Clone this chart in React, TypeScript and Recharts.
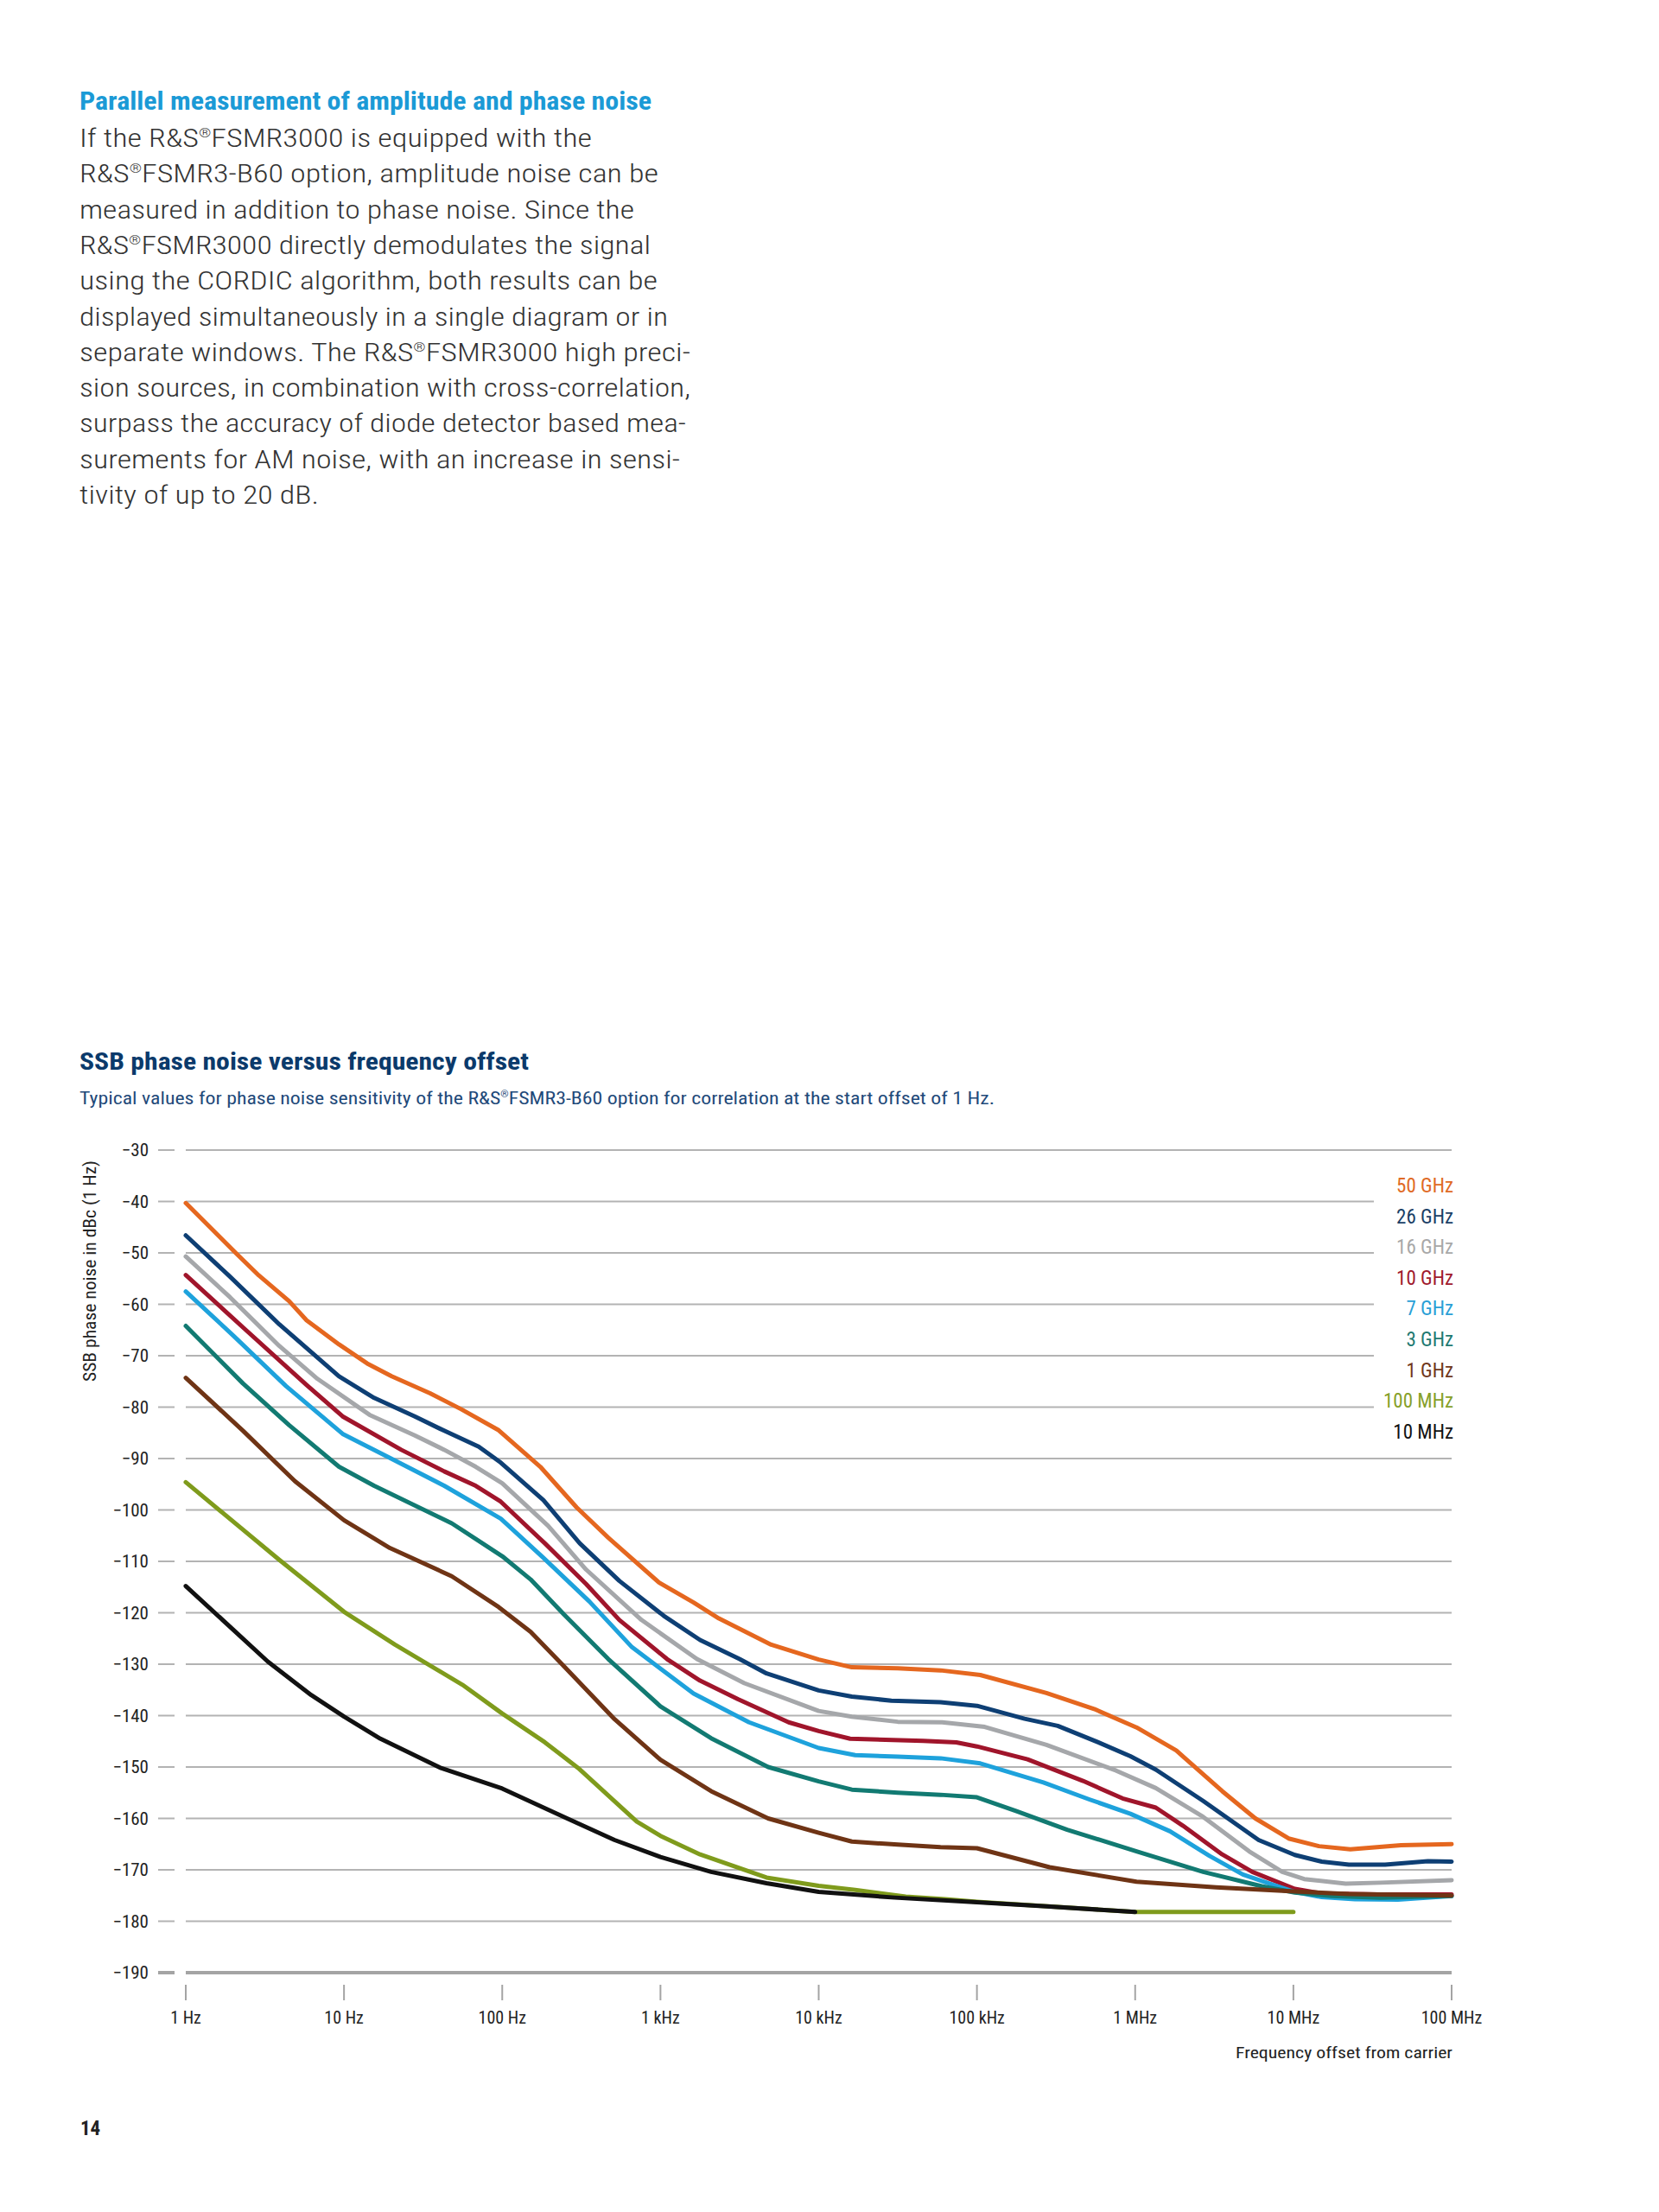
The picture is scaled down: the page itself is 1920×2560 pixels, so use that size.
import React from 'react';
import { LineChart, Line, XAxis, YAxis, CartesianGrid, Legend, Label } from 'recharts';

const FONT = "'Liberation Sans Narrow', 'Roboto Condensed', 'DejaVu Sans Condensed', 'Roboto', sans-serif";

// ---------- text ----------
const PARA_TITLE = 'Parallel measurement of amplitude and phase noise';
const PARA_LINES = [
  'If the R&S®FSMR3000 is equipped with the',
  'R&S®FSMR3-B60 option, amplitude noise can be',
  'measured in addition to phase noise. Since the',
  'R&S®FSMR3000 directly demodulates the signal',
  'using the CORDIC algorithm, both results can be',
  'displayed simultaneously in a single diagram or in',
  'separate windows. The R&S®FSMR3000 high preci-',
  'sion sources, in combination with cross-correlation,',
  'surpass the accuracy of diode detector based mea-',
  'surements for AM noise, with an increase in sensi-',
  'tivity of up to 20 dB.',
];
const PARA_WIDTHS = [593, 670, 642, 661, 669, 681, 707, 707, 702, 695, 277];
const CHART_TITLE = 'SSB phase noise versus frequency offset';
const CHART_SUBTITLE = 'Typical values for phase noise sensitivity of the R&S®FSMR3-B60 option for correlation at the start offset of 1 Hz.';
const Y_AXIS_TITLE = 'SSB phase noise in dBc (1 Hz)';
const X_AXIS_TITLE = 'Frequency offset from carrier';
const PAGE_NUMBER = '14';

// ---------- axes ----------
const X_TICKS = [1, 10, 100, 1e3, 1e4, 1e5, 1e6, 1e7, 1e8];
const X_TICK_LABELS = ['1 Hz', '10 Hz', '100 Hz', '1 kHz', '10 kHz', '100 kHz', '1 MHz', '10 MHz', '100 MHz'];
const Y_TICKS = [-30, -40, -50, -60, -70, -80, -90, -100, -110, -120, -130, -140, -150, -160, -170, -180, -190];

// ---------- series ----------
const SERIES_NAMES = ['50 GHz', '26 GHz', '16 GHz', '10 GHz', '7 GHz', '3 GHz', '1 GHz', '100 MHz', '10 MHz'];
const SERIES_COLORS = ['#e5671f', '#0e3f74', '#a5a7aa', '#a0152b', '#1ea2dc', '#127a72', '#6f3415', '#7f9b1c', '#111111'];
const LEGEND_COLORS = ['#e06a25', '#1b3f66', '#a8a8a8', '#a01a2e', '#2a9fd6', '#1f7a72', '#70381c', '#86a02a', '#111111'];

const F_50G = [1, 2.1, 2.9, 4.5, 5.8, 9.3, 14, 20, 35, 55, 95, 174, 295, 468, 977, 1620, 2340, 5010, 1e4, 1.62e4, 3.16e4, 5.89e4, 1.05e5, 2.75e5, 5.5e5, 1.02e6, 1.82e6, 3.55e6, 5.75e6, 9.33e6, 1.45e7, 2.29e7, 4.79e7, 1e8];
const V_50G = [-40.3, -50.2, -54.4, -59.4, -63.1, -67.8, -71.5, -74, -77.3, -80.4, -84.5, -91.6, -99.5, -105.4, -114.1, -118, -121.1, -126.2, -129.1, -130.6, -130.8, -131.2, -132.1, -135.6, -138.7, -142.3, -146.8, -154.7, -160, -163.9, -165.4, -166, -165.2, -165];

const F_26G = [1, 1.9, 3.9, 9.3, 15.5, 28, 43, 71, 98, 182, 309, 550, 1050, 1780, 3160, 4680, 1e4, 1.62e4, 2.88e4, 5.89e4, 1e5, 2e5, 3.24e5, 5.75e5, 9.33e5, 1.35e6, 2.69e6, 6.03e6, 1.02e7, 1.51e7, 2.24e7, 3.8e7, 7.08e7, 1e8];
const V_26G = [-46.6, -54.6, -63.9, -74, -78.2, -81.8, -84.6, -87.7, -90.8, -98.1, -106.5, -113.8, -120.6, -125.3, -129, -131.8, -135.1, -136.3, -137.1, -137.4, -138.1, -140.6, -142, -145.1, -147.9, -150.5, -156.6, -164.2, -167.1, -168.4, -169, -169, -168.3, -168.4];

const F_16G = [1, 1.9, 3.9, 6.8, 14.5, 28, 43, 68, 100, 195, 339, 759, 1700, 3390, 1e4, 1.62e4, 3.16e4, 6.03e4, 1.12e5, 2.75e5, 7.59e5, 1.35e6, 2.69e6, 5.25e6, 8.51e6, 1.17e7, 2.14e7, 3.55e7, 1e8];
const V_16G = [-50.7, -58.6, -68.1, -74.5, -81.5, -85.5, -88.3, -91.6, -94.8, -103.1, -111.6, -121.4, -129, -133.7, -139.1, -140.2, -141.2, -141.3, -142.2, -145.7, -150.7, -154.1, -159.7, -166.4, -170.4, -171.8, -172.7, -172.5, -172];

const F_10G = [1, 2.3, 5.8, 9.8, 23, 43, 68, 98, 186, 339, 550, 1100, 1780, 3090, 6460, 1e4, 1.58e4, 4.57e4, 7.41e4, 1e5, 2.09e5, 4.68e5, 8.32e5, 1.35e6, 2e6, 3.55e6, 5.5e6, 1.02e7, 1.51e7, 3.55e7, 1e8];
const V_10G = [-54.3, -64.5, -75.7, -81.8, -88.3, -92.5, -95.3, -98.4, -106.5, -114.4, -121.4, -129, -133.2, -136.8, -141.3, -143, -144.5, -144.9, -145.2, -146, -148.5, -152.7, -156.1, -157.9, -161.4, -167, -170.4, -173.7, -174.6, -174.8, -174.8];

const F_7G = [1, 2, 4.3, 9.8, 19, 43, 98, 182, 355, 661, 1620, 3630, 1e4, 1.7e4, 3.16e4, 5.89e4, 1.05e5, 2.63e5, 5.13e5, 9.33e5, 1.66e6, 2.95e6, 4.79e6, 6.92e6, 1.02e7, 1.51e7, 2.45e7, 4.57e7, 1e8];
const V_7G = [-57.5, -66.1, -75.9, -85.2, -89.7, -95.3, -101.7, -109.3, -117.8, -126.7, -135.7, -141.3, -146.3, -147.7, -148, -148.3, -149.3, -153, -156.3, -159.1, -162.5, -167.3, -170.9, -172.6, -174.3, -175.3, -175.7, -175.8, -175.1];

const F_3G = [1, 2.3, 4.5, 9.3, 15.5, 48, 100, 151, 245, 468, 1000, 2090, 4790, 1e4, 1.62e4, 3.16e4, 5.89e4, 1e5, 1.78e5, 3.72e5, 1.02e6, 2.69e6, 6.31e6, 1.02e7, 1.74e7, 3.55e7, 1e8];
const V_3G = [-64.2, -75.4, -83.5, -91.6, -95.3, -102.6, -109, -113.5, -120.3, -129, -138.2, -144.4, -150, -152.8, -154.4, -155, -155.4, -155.9, -158.6, -162.2, -166.4, -170.4, -173.2, -174.4, -175.1, -175.4, -175.1];

const F_1G = [1, 2.3, 4.9, 10, 19.5, 48, 95, 151, 240, 513, 1000, 2090, 4790, 1e4, 1.62e4, 3.16e4, 5.89e4, 1e5, 2.88e5, 1.02e6, 3.24e6, 1.02e7, 2.24e7, 1e8];
const V_1G = [-74.3, -84.6, -94.4, -102, -107.4, -112.9, -118.9, -123.7, -130.1, -140.7, -148.6, -154.7, -160, -162.8, -164.5, -165.1, -165.6, -165.8, -169.5, -172.3, -173.4, -174.2, -174.7, -175];

const F_100M = [1, 3.9, 10, 21, 56, 100, 186, 302, 708, 1000, 1780, 4680, 1e4, 1.7e4, 3.55e4, 6.31e4, 1e5, 1e6, 1e7];
const V_100M = [-94.6, -109.7, -119.8, -126.2, -134, -139.6, -145.2, -150.2, -160.6, -163.4, -167, -171.5, -173.1, -173.9, -175.2, -175.7, -176.2, -178.2, -178.2];

const F_10M = [1, 3.3, 6.2, 10, 17, 41, 100, 257, 513, 1000, 2090, 4680, 1e4, 3.02e4, 1e5, 2.75e5, 1e6];
const V_10M = [-114.8, -129.5, -136, -140.2, -144.5, -150.2, -154.2, -160, -164.2, -167.5, -170.4, -172.6, -174.3, -175.4, -176.3, -177.1, -178.2];

const SERIES_F = [F_50G, F_26G, F_16G, F_10G, F_7G, F_3G, F_1G, F_100M, F_10M];
const SERIES_V = [V_50G, V_26G, V_16G, V_10G, V_7G, V_3G, V_1G, V_100M, V_10M];

const SERIES = SERIES_NAMES.map((name, i) => ({
  name,
  color: SERIES_COLORS[i],
  data: SERIES_F[i].map((f, j) => ({ f, v: SERIES_V[i][j] })),
}));

// ---------- layout ----------
const CHART_TOP = 1300;
const CHART_W = 1760;
const CHART_H = 1120;
const PLOT_BOTTOM = 983; // svg coordinate of the -190 line
const GRID = '#b3b3b3';

// registered sign as a small superscript; the following text returns to the baseline
const withReg = (s: string, size: number) => {
  const parts = s.split('®');
  const lift = Math.round(size * 0.38);
  const out: React.ReactNode[] = [];
  parts.forEach((p, i) => {
    if (i > 0) {
      out.push(
        <tspan key={'r' + i} fontSize={Math.round(size * 0.5)} dy={-lift}>
          ®
        </tspan>
      );
      out.push(
        <tspan key={'t' + i} dy={lift}>
          {p}
        </tspan>
      );
    } else {
      out.push(<tspan key={'t' + i}>{p}</tspan>);
    }
  });
  return out;
};

const YTick = (props: any) => {
  const { y, payload } = props;
  const isBottom = payload.value === -190;
  return (
    <g>
      <line x1={183} x2={202} y1={y} y2={y} stroke={isBottom ? '#a4a4a4' : GRID} strokeWidth={isBottom ? 4 : 2} />
      <text x={172} y={y + 7} textAnchor="end" fontSize={21} fill="#222" fontFamily={FONT}>
        {'\u2212' + Math.abs(payload.value)}
      </text>
    </g>
  );
};

const XTick = (props: any) => {
  const { x, payload } = props;
  const idx = X_TICKS.indexOf(payload.value);
  return (
    <g>
      <line x1={x} x2={x} y1={PLOT_BOTTOM + 14} y2={PLOT_BOTTOM + 32} stroke="#a4a4a4" strokeWidth={2} />
      <text x={x} y={PLOT_BOTTOM + 59} textAnchor="middle" fontSize={20} fill="#222" fontFamily={FONT}>
        {X_TICK_LABELS[idx]}
      </text>
    </g>
  );
};

const LegendContent = () => (
  <div
    style={{
      background: '#fff',
      width: 92,
      textAlign: 'right',
      fontFamily: FONT,
      fontSize: 23,
      lineHeight: '35.6px',
    }}
  >
    {SERIES_NAMES.map((n, i) => (
      <div key={n} style={{ color: LEGEND_COLORS[i], whiteSpace: 'nowrap' }}>{n}</div>
    ))}
  </div>
);

export default function App() {
  return (
    <div style={{ position: 'absolute', left: 0, top: 0, width: 1920, height: 2560, background: '#fff' }}>
      <svg width={1920} height={640} style={{ position: 'absolute', left: 0, top: 0 }} fontFamily={FONT}>
        <text x={92} y={127} fontSize={30} fontWeight={700} fill="#1b9ad6" textLength={662} lengthAdjust="spacingAndGlyphs">
          {PARA_TITLE}
        </text>
        {PARA_LINES.map((l, i) => (
          <text
            key={i}
            x={92}
            y={170 + i * 41.3}
            fontSize={30}
            fontWeight={300}
            fill="#333"
            textLength={PARA_WIDTHS[i]}
            lengthAdjust="spacingAndGlyphs"
          >
            {withReg(l, 30)}
          </text>
        ))}
      </svg>

      <svg width={1920} height={100} style={{ position: 'absolute', left: 0, top: 1200 }} fontFamily={FONT}>
        <text x={92} y={38} fontSize={28} fontWeight={700} fill="#0b3a6b" textLength={520} lengthAdjust="spacingAndGlyphs">
          {CHART_TITLE}
        </text>
        <text x={92} y={78} fontSize={20} fill="#1f4a7a" textLength={1059} lengthAdjust="spacingAndGlyphs">
          {withReg(CHART_SUBTITLE, 20)}
        </text>
      </svg>

      <div style={{ position: 'absolute', left: 0, top: CHART_TOP }}>
        <LineChart width={CHART_W} height={CHART_H} margin={{ top: 31, right: 80, bottom: 37, left: 0 }}>
          <CartesianGrid horizontal vertical={false} stroke={GRID} strokeWidth={2} />
          <XAxis
            type="number"
            dataKey="f"
            scale="log"
            domain={[1, 1e8]}
            ticks={X_TICKS}
            height={100}
            axisLine={{ stroke: '#a4a4a4', strokeWidth: 4 }}
            tickLine={false}
            tick={<XTick />}
            interval={0}
          >
            <Label
              content={() => (
                <text x={1681} y={1082} textAnchor="end" fontSize={19} fill="#222" fontFamily={FONT} textLength={251} lengthAdjust="spacingAndGlyphs">
                  {X_AXIS_TITLE}
                </text>
              )}
            />
          </XAxis>
          <YAxis
            type="number"
            domain={[-190, -30]}
            ticks={Y_TICKS}
            width={215}
            axisLine={false}
            tickLine={false}
            tick={<YTick />}
            interval={0}
          >
            <Label
              content={() => (
                <text
                  transform="translate(111,171) rotate(-90)"
                  textAnchor="middle"
                  fontSize={20}
                  fill="#222"
                  fontFamily={FONT}
                  textLength={256}
                  lengthAdjust="spacingAndGlyphs"
                >
                  {Y_AXIS_TITLE}
                </text>
              )}
            />
          </YAxis>
          <Legend
            layout="vertical"
            align="center"
            verticalAlign="middle"
            content={<LegendContent />}
            wrapperStyle={{ left: 1590, top: 55, width: 92, height: 320, margin: 0 }}
          />
          {SERIES.map((s) => (
            <Line
              key={s.name}
              name={s.name}
              data={s.data}
              dataKey="v"
              type="linear"
              stroke={s.color}
              strokeWidth={5}
              strokeLinejoin="round"
              strokeLinecap="round"
              dot={false}
              activeDot={false}
              isAnimationActive={false}
            />
          ))}
        </LineChart>
      </div>

      <div style={{ position: 'absolute', left: 93, top: 2450, fontFamily: FONT, fontWeight: 700, fontSize: 23, color: '#222' }}>
        {PAGE_NUMBER}
      </div>
    </div>
  );
}
